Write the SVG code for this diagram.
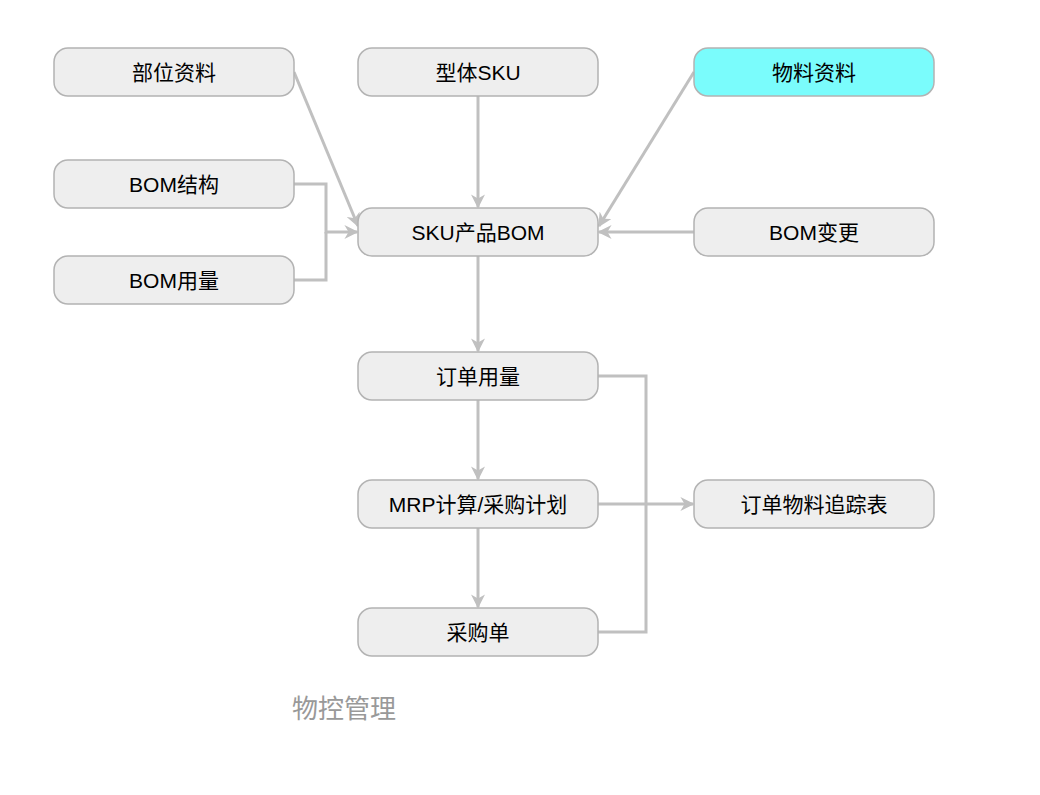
<svg xmlns="http://www.w3.org/2000/svg" width="1040" height="795" viewBox="0 0 1040 795">
<style>
.n rect{fill:#eeeeee;stroke:#b3b3b3;stroke-width:1.5}
.n text{font-family:"Liberation Sans","Noto Sans CJK SC",sans-serif;font-size:21px;fill:#000;text-anchor:middle;dominant-baseline:central}
.c path{fill:none;stroke:#c0c0c0;stroke-width:3}
</style>
<defs><marker id="a" markerWidth="8" markerHeight="8" refX="7" refY="4" orient="auto" markerUnits="userSpaceOnUse" viewBox="0 0 8 8"><path d="M0,0 L8,4 L0,8 Z" fill="#c0c0c0"/></marker>
<marker id="ar" viewBox="0 0 10 10" refX="9" refY="5" markerWidth="14" markerHeight="14" orient="auto" markerUnits="userSpaceOnUse"><path d="M0,0 L10,5 L0,10 L3,5 Z" fill="#c0c0c0"/></marker></defs>
<rect width="1040" height="795" fill="#fff"/>
<g class="c">
<path d="M294,72 L358,226" marker-end="url(#ar)"/>
<path d="M478,96 L478,207" marker-end="url(#ar)"/>
<path d="M694,72 L599,226" marker-end="url(#ar)"/>
<path d="M294,184 H326 V232 H357" marker-end="url(#ar)"/>
<path d="M294,280 H326 V232"/>
<path d="M694,232 H599" marker-end="url(#ar)"/>
<path d="M478,256 V351" marker-end="url(#ar)"/>
<path d="M478,400 V479" marker-end="url(#ar)"/>
<path d="M598,376 H646 V504"/>
<path d="M598,504 H693" marker-end="url(#ar)"/>
<path d="M598,632 H646 V504"/>
<path d="M478,528 V607" marker-end="url(#ar)"/>
</g>
<g id="n1" class="n"><rect x="54" y="48" width="240" height="48" rx="14"/><text x="174" y="72">部位资料</text></g>
<g id="n2" class="n"><rect x="358" y="48" width="240" height="48" rx="14"/><text x="478" y="72">型体SKU</text></g>
<g id="n3" class="n"><rect x="694" y="48" width="240" height="48" rx="14" style="fill:#7afcfc"/><text x="814" y="72">物料资料</text></g>
<g id="n4" class="n"><rect x="54" y="160" width="240" height="48" rx="14"/><text x="174" y="184">BOM结构</text></g>
<g id="n5" class="n"><rect x="358" y="208" width="240" height="48" rx="14"/><text x="478" y="232">SKU产品BOM</text></g>
<g id="n6" class="n"><rect x="694" y="208" width="240" height="48" rx="14"/><text x="814" y="232">BOM变更</text></g>
<g id="n7" class="n"><rect x="54" y="256" width="240" height="48" rx="14"/><text x="174" y="280">BOM用量</text></g>
<g id="n8" class="n"><rect x="358" y="352" width="240" height="48" rx="14"/><text x="478" y="376">订单用量</text></g>
<g id="n9" class="n"><rect x="358" y="480" width="240" height="48" rx="14"/><text x="478" y="504">MRP计算/采购计划</text></g>
<g id="n10" class="n"><rect x="694" y="480" width="240" height="48" rx="14"/><text x="814" y="504">订单物料追踪表</text></g>
<g id="n11" class="n"><rect x="358" y="608" width="240" height="48" rx="14"/><text x="478" y="632">采购单</text></g>
<text x="292" y="718" font-family="Liberation Sans,Noto Sans CJK SC,sans-serif" font-size="26" fill="#999">物控管理</text>
</svg>
